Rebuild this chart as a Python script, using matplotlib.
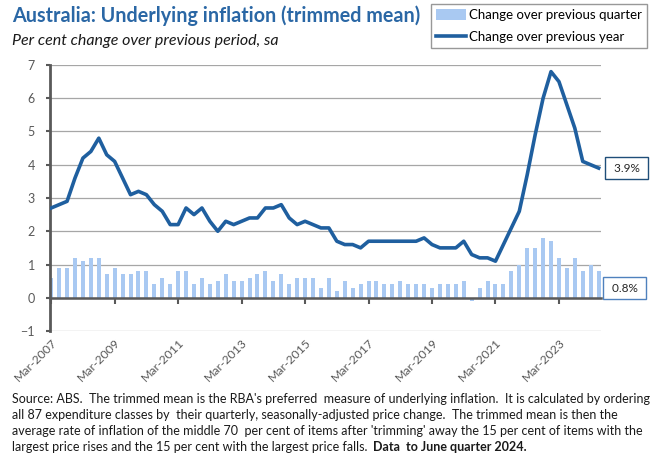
import numpy as np
import matplotlib
matplotlib.use("Agg")
import matplotlib.pyplot as plt
from matplotlib.lines import Line2D
from matplotlib.patches import Patch
from matplotlib import transforms

plt.rcParams['font.family'] = ['Lato', 'DejaVu Sans']

# Trimmed mean, per cent change, Mar-2007 to Jun-2024 (quarterly)
quarter_change = [0.6, 0.9, 0.9, 1.2, 1.1, 1.2, 1.2, 0.7, 0.9, 0.7,
                  0.7, 0.8, 0.8, 0.4, 0.6, 0.4, 0.8, 0.8, 0.4, 0.6,
                  0.4, 0.5, 0.7, 0.5, 0.5, 0.6, 0.7, 0.8, 0.5, 0.7,
                  0.4, 0.6, 0.6, 0.6, 0.3, 0.6, 0.2, 0.5, 0.3, 0.4,
                  0.5, 0.5, 0.4, 0.4, 0.5, 0.4, 0.4, 0.4, 0.3, 0.4,
                  0.4, 0.4, 0.5, -0.1, 0.3, 0.5, 0.4, 0.4, 0.8, 1.0,
                  1.5, 1.5, 1.8, 1.7, 1.2, 0.9, 1.2, 0.8, 1.0, 0.8]
annual_change = [2.7, 2.8, 2.9, 3.6, 4.2, 4.4, 4.8, 4.3, 4.1, 3.6,
                 3.1, 3.2, 3.1, 2.8, 2.6, 2.2, 2.2, 2.7, 2.5, 2.7,
                 2.3, 2.0, 2.3, 2.2, 2.3, 2.4, 2.4, 2.7, 2.7, 2.8,
                 2.4, 2.2, 2.3, 2.2, 2.1, 2.1, 1.7, 1.6, 1.6, 1.5,
                 1.7, 1.7, 1.7, 1.7, 1.7, 1.7, 1.7, 1.8, 1.6, 1.5,
                 1.5, 1.5, 1.7, 1.3, 1.2, 1.2, 1.1, 1.6, 2.1, 2.6,
                 3.7, 4.9, 6.0, 6.8, 6.5, 5.8, 5.1, 4.1, 4.0, 3.9]
tick_labels = ["Mar-2007", "Mar-2009", "Mar-2011", "Mar-2013", "Mar-2015",
               "Mar-2017", "Mar-2019", "Mar-2021", "Mar-2023"]
tick_step = 8

bar_color = '#a9c9f2'
line_color = '#1f5f9f'
axis_grey = '#595959'

x = np.arange(len(quarter_change))

fig = plt.figure(figsize=(6.5, 4.55), dpi=100)
ax = fig.add_axes([50/650, 1 - 331/455, 551/650, 266/455])

ax.bar(x, quarter_change, width=0.5, color=bar_color, zorder=2)
ax.plot(x, annual_change, color=line_color, lw=2.6, zorder=3)

ax.set_xlim(-0.15, len(x) - 0.7)
ax.set_ylim(-1, 7)
ax.set_yticks(range(-1, 8))
ax.yaxis.grid(True, color='#a6a6a6', lw=0.9)
ax.set_axisbelow(True)

for s in ['top', 'right']:
    ax.spines[s].set_visible(False)
ax.spines['left'].set_color(axis_grey)
ax.spines['left'].set_linewidth(2)
ax.spines['bottom'].set_position(('data', 0))
ax.spines['bottom'].set_color(axis_grey)
ax.spines['bottom'].set_linewidth(1.8)
ax.spines['bottom'].set_zorder(4)

ax.set_xticks(x[::tick_step])
ax.tick_params(axis='x', direction='out', length=4, width=1.5,
               color=axis_grey, labelbottom=False)
ax.tick_params(axis='y', direction='out', length=3, width=1.5,
               color=axis_grey, labelcolor=axis_grey, labelsize=9, pad=8)

lab_trans = transforms.offset_copy(
    transforms.blended_transform_factory(ax.transData, ax.transAxes),
    fig=fig, x=4, y=-10, units='dots')
for i, lab in zip(x[::tick_step], tick_labels):
    ax.text(i, 0, lab, transform=lab_trans, rotation=45, rotation_mode='anchor',
            ha='right', va='center', fontsize=8.8, color=axis_grey)

# end-of-series labels
ax.annotate(f" {annual_change[-1]:.1f}% ", xy=(x[-1], annual_change[-1]),
            xytext=(28, 0), textcoords='offset pixels', ha='center', va='center',
            fontsize=8.5, color='#262626', annotation_clip=False,
            bbox=dict(boxstyle='square,pad=0.45', fc='white', ec='#1f4e79', lw=1))
ax.annotate(f" {quarter_change[-1]:.1f}% ", xy=(x[-1], quarter_change[-1]),
            xytext=(26, -17), textcoords='offset pixels', ha='center', va='center',
            fontsize=8.5, color='#262626', annotation_clip=False,
            bbox=dict(boxstyle='square,pad=0.45', fc='white', ec='#4f81bd', lw=1))

handles = [Patch(facecolor=bar_color, edgecolor='none'),
           Line2D([0], [0], color=line_color, lw=2.6)]
leg = fig.legend(handles, ["Change over previous quarter", "Change over previous year"],
                 loc='upper right', bbox_to_anchor=(647/650, 1 - 4/455),
                 fancybox=False, edgecolor='#7f7f7f', fontsize=9.5,
                 handlelength=2.3, handleheight=0.9, labelspacing=0.7,
                 borderpad=0.4, handletextpad=0.2, borderaxespad=0)
leg.get_frame().set_linewidth(1.0)

fig.text(12/650, 1 - 16/455, "Australia: Underlying inflation (trimmed mean)",
         fontsize=14.2, fontweight='bold', color='#2a67a5', va='center')
fig.text(12/650, 1 - 41/455, "Per cent change over previous period, sa",
         fontsize=11.5, style='italic', color='#1a1a1a', va='center')

notes = ["Source: ABS.  The trimmed mean is the RBA's preferred  measure of underlying inflation.  It is calculated by ordering",
         "all 87 expenditure classes by  their quarterly, seasonally-adjusted price change.  The trimmed mean is then the",
         "average rate of inflation of the middle 70  per cent of items after 'trimming' away the 15 per cent of items with the",
         "largest price rises and the 15 per cent with the largest price falls. "]
note_y = [399, 415, 431, 447]
last = None
for txt, yy in zip(notes, note_y):
    last = fig.text(12/650, 1 - yy/455, txt, fontsize=9, color='#1a1a1a', va='center')

fig.canvas.draw()
bb = last.get_window_extent()
fig.text(bb.x1 / fig.bbox.width + 0.004, 1 - note_y[-1]/455, "Data  to June quarter 2024.",
         fontsize=9, fontweight='bold', color='#1a1a1a', va='center')

fig.savefig("out.png", dpi=100)
